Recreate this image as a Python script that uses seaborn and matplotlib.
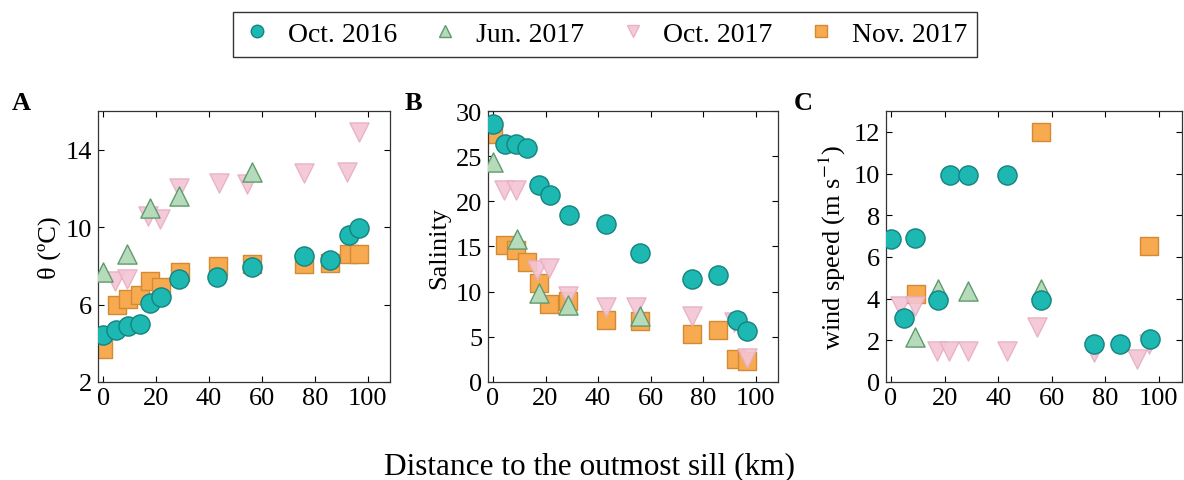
import numpy as np
import pandas as pd
import matplotlib
matplotlib.use("Agg")
import matplotlib.pyplot as plt
import seaborn as sns

sns.set_theme(style="ticks")
plt.rcParams['font.family'] = ['Liberation Serif', 'DejaVu Serif']
plt.rcParams['mathtext.fontset'] = 'stix'
plt.rcParams['text.color'] = 'black'
plt.rcParams['axes.labelcolor'] = 'black'
plt.rcParams['xtick.color'] = 'black'
plt.rcParams['ytick.color'] = 'black'

# ---------------- data ----------------
surveys = ["Oct. 2016", "Jun. 2017", "Oct. 2017", "Nov. 2017"]

# Panel A: potential temperature
a_oct16_x = [0, 4.8, 9.2, 13.7, 17.7, 21.8, 28.7, 43, 56.3, 76, 85.8, 92.8, 96.8]
a_oct16_y = [4.4, 4.7, 4.9, 5.0, 6.1, 6.4, 7.3, 7.4, 7.95, 8.5, 8.3, 9.6, 9.95]
a_jun17_x = [0, 8.9, 17.7, 28.7, 56.3]
a_jun17_y = [7.7, 8.6, 11.0, 11.6, 12.85]
a_oct17_x = [4.4, 8.9, 17.0, 21.5, 28.7, 43.7, 54.4, 76, 92.4, 96.8]
a_oct17_y = [7.2, 7.3, 10.6, 10.4, 12.0, 12.3, 12.25, 12.8, 12.85, 14.9]
a_nov17_x = [0, 5.0, 9.2, 13.7, 17.7, 21.8, 29, 43.4, 56.3, 76, 85.8, 92.8, 96.8]
a_nov17_y = [3.7, 6.0, 6.3, 6.5, 7.2, 6.9, 7.7, 8.0, 8.1, 8.1, 8.15, 8.6, 8.6]

# Panel B: salinity
b_oct16_x = [0, 4.4, 8.8, 13.1, 17.5, 21.7, 28.9, 43.2, 56, 75.8, 85.5, 92.8, 96.6]
b_oct16_y = [28.6, 26.4, 26.4, 25.9, 21.8, 20.7, 18.5, 17.45, 14.3, 11.45, 11.8, 6.9, 5.6]
b_jun17_x = [0, 9, 17.5, 28.4, 56]
b_jun17_y = [24.4, 15.8, 9.8, 8.5, 7.3]
b_oct17_x = [4, 8.8, 16.7, 21.3, 28.4, 43.2, 54.5, 75.8, 91.8, 96.6]
b_oct17_y = [21.3, 21.3, 12.4, 12.6, 9.5, 8.3, 8.3, 7.3, 6.6, 2.6]
b_nov17_x = [0, 4.7, 8.8, 13.1, 17.5, 21.5, 28.7, 43, 56, 75.8, 85.6, 92.4, 96.6]
b_nov17_y = [27.5, 15.2, 14.6, 13.3, 10.9, 8.6, 9.0, 6.9, 6.7, 5.3, 5.8, 2.5, 2.3]

# Panel C: wind speed
c_oct16_x = [0, 5, 9, 17.6, 22, 28.8, 43.3, 56, 75.7, 85.4, 96.7]
c_oct16_y = [6.87, 3.05, 6.9, 3.93, 9.94, 9.94, 9.94, 3.93, 1.8, 1.8, 2.07]
c_jun17_x = [9, 17.6, 28.8, 56]
c_jun17_y = [2.15, 4.45, 4.34, 4.45]
c_oct17_x = [3.4, 9, 17.2, 21.6, 28.8, 43.3, 54.6, 75.7, 91.8, 96.5]
c_oct17_y = [3.66, 3.66, 1.5, 1.5, 1.5, 1.5, 2.62, 1.43, 1.1, 1.8]
c_nov17_x = [9.3, 56, 96.5]
c_nov17_y = [4.2, 12.0, 6.5]

panels = [
    dict(letter="A", ylabel="θ (ºC)", ylim=(2, 16), yticks=[2, 6, 10, 14],
         data=[(a_oct16_x, a_oct16_y), (a_jun17_x, a_jun17_y), (a_oct17_x, a_oct17_y), (a_nov17_x, a_nov17_y)]),
    dict(letter="B", ylabel="Salinity", ylim=(0, 30), yticks=[0, 5, 10, 15, 20, 25, 30],
         data=[(b_oct16_x, b_oct16_y), (b_jun17_x, b_jun17_y), (b_oct17_x, b_oct17_y), (b_nov17_x, b_nov17_y)]),
    dict(letter="C", ylabel="wind speed (m s$^{-1}$)", ylim=(0, 13), yticks=[0, 2, 4, 6, 8, 10, 12],
         data=[(c_oct16_x, c_oct16_y), (c_jun17_x, c_jun17_y), (c_oct17_x, c_oct17_y), (c_nov17_x, c_nov17_y)]),
]

styles = {
    "Oct. 2016": dict(marker="o", face="#1db8b2", edge="#14837f", z=5, alpha=1.0),
    "Jun. 2017": dict(marker="^", face="#b6dbbb", edge="#5f9a6d", z=4, alpha=1.0),
    "Oct. 2017": dict(marker="v", face="#f4c5d4", edge="#e6aec2", z=3, alpha=0.9),
    "Nov. 2017": dict(marker="s", face="#f8aa50", edge="#d38a36", z=2, alpha=1.0),
}

fig = plt.figure(figsize=(11.84, 4.81), dpi=100)
lefts = [0.0828, 0.412, 0.748]
widths = [0.2466, 0.245, 0.250]
bottom, height = 0.204, 0.563
letter_x = [0.010, 0.342, 0.670]

for i, p in enumerate(panels):
    ax = fig.add_axes([lefts[i], bottom, widths[i], height])
    for name, (xs, ys) in zip(surveys, p["data"]):
        st = styles[name]
        df = pd.DataFrame({"x": xs, "y": ys})
        sns.scatterplot(data=df, x="x", y="y", ax=ax, marker=st["marker"],
                        color=st["face"], edgecolor=st["edge"], linewidth=1.0,
                        s=190 if st["marker"] != "s" else 150, alpha=st["alpha"],
                        zorder=st["z"], legend=False)
    ax.set_xlim(-2, 108.5)
    ax.set_ylim(*p["ylim"])
    ax.set_xticks([0, 20, 40, 60, 80, 100])
    ax.set_yticks(p["yticks"])
    ax.set_xlabel("")
    ax.set_ylabel(p["ylabel"], fontsize=19, labelpad=4)
    ax.tick_params(direction="in", top=True, right=True, length=4, width=0.8,
                   labelsize=19, colors="black", pad=4)
    for sp in ax.spines.values():
        sp.set_linewidth(0.9)
        sp.set_color("#333333")
    fig.text(letter_x[i], 0.772, p["letter"], fontsize=19, fontweight="bold", ha="left", va="baseline")

fig.text(0.498, 0.03, "Distance to the outmost sill (km)", fontsize=22.5, ha="center", va="center")

handles = []
for name in surveys:
    st = styles[name]
    h = plt.Line2D([], [], linestyle="none", marker=st["marker"], markerfacecolor=st["face"],
                   markeredgecolor=st["edge"], markersize=9, alpha=st["alpha"], label=name)
    handles.append(h)
leg = fig.legend(handles=handles, loc="center", bbox_to_anchor=(0.511, 0.927), ncol=4,
                 fontsize=20, frameon=True, fancybox=False, edgecolor="black",
                 handlelength=1.0, handletextpad=0.6, columnspacing=1.25, borderpad=0.35)
leg.get_frame().set_linewidth(1.0)

fig.savefig("out.png", dpi=100)
